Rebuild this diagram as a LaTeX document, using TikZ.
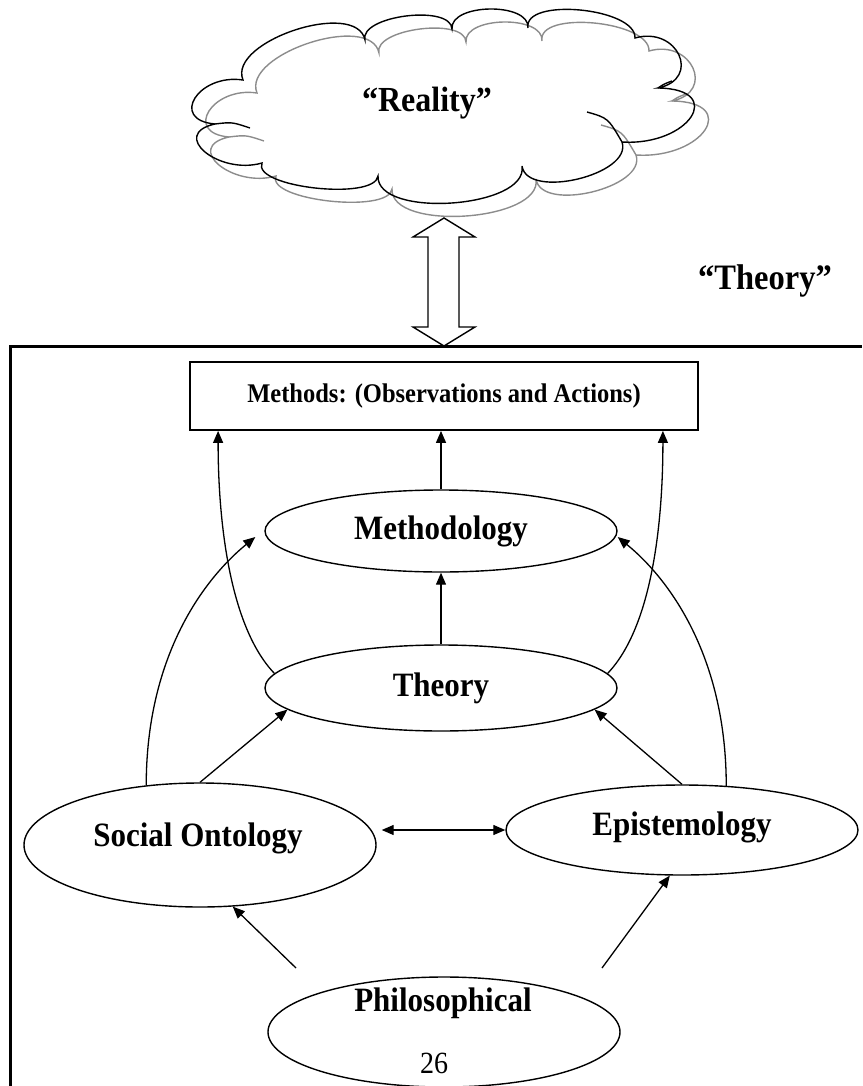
\documentclass[tikz,border=0pt]{standalone}
\usepackage{fontspec}
\setmainfont{Liberation Serif}
\usetikzlibrary{arrows.meta,shapes.geometric,calc}
% one rounded puff of the cloud outline: from #1 to #2, bulging through #3
\newcommand{\cloudpuff}[3]{.. controls ($0.3633*(#1)+1.3333*(#3)-0.6967*(#2)$)
  and ($0.3633*(#2)+1.3333*(#3)-0.6967*(#1)$) .. (#2)}
% the whole cloud outline with its inner curls
\newcommand{\cloudoutline}{%
  \draw (215,124) \cloudpuff{215,124}{243,80}{195,98}
        \cloudpuff{243,80}{365,40}{295,30}
        \cloudpuff{365,40}{452,29}{406,16}
        \cloudpuff{452,29}{528,28}{490,9}
        \cloudpuff{528,28}{635,38}{580,10}
        \cloudpuff{635,38}{658,88}{679,55}
        \cloudpuff{658,88}{622,142}{691,117}
        \cloudpuff{622,142}{522,166}{578,179}
        \cloudpuff{522,166}{378,176}{452,203}
        \cloudpuff{378,176}{262,163}{315,188}
        \cloudpuff{262,163}{215,124}{205,152};
  \draw (215,124) .. controls (232,122) .. (250,128);
  \draw (587,112) .. controls (608,118) .. (622,142);
  \draw (658,88) .. controls (664,84) .. (672,81);
}
% labels are set a little taller than wide
\newcommand{\tall}[1]{\scalebox{1}[1.1]{#1}}
\begin{document}
\begin{tikzpicture}[x=1pt,y=-1pt,
  ell/.style={draw, line width=1.4pt, ellipse, inner sep=0pt},
  lbl/.style={font=\fontsize{31}{34}\selectfont\bfseries, inner sep=0pt},
  arr/.style={line width=1.3pt, -{Triangle[length=12pt,width=10pt]}},
  dblarr/.style={line width=1.3pt, {Triangle[length=12pt,width=10pt]}-{Triangle[length=12pt,width=10pt]}}]
\useasboundingbox (0,0) rectangle (862,1086);

% the cloud: a grey outline behind a black one, both unfilled
\begin{scope}[shift={(14,13)}, draw=black!45, line width=1.4pt]
  \cloudoutline
\end{scope}
\begin{scope}[draw=black, line width=1.4pt]
  \cloudoutline
\end{scope}
\node[font=\fontsize{32}{36}\selectfont\bfseries] (reality) at (427,103) {\tall{“Reality”}};

% hollow double arrow between the cloud and the frame
\draw[line width=1.4pt, line join=miter]
  (444,218) -- (475,237) -- (459,237) -- (459,327) -- (475,327) -- (444,346)
  -- (413,327) -- (428,327) -- (428,237) -- (413,237) -- cycle;

% open frame
\draw[line width=3pt] (10.5,1086) -- (10.5,346) -- (862,346);
\node[font=\fontsize{32.5}{36}\selectfont\bfseries] (theorylbl) at (765,281) {\tall{“Theory”}};

% methods box
\node[draw, line width=1.8pt, minimum width=508pt, minimum height=68pt, inner sep=0pt,
      font=\fontsize{24.5}{28}\selectfont\bfseries] (methods) at (444,396)
      {\tall{Methods: (Observations and Actions)}};

% ellipses
\node[ell, minimum width=352pt, minimum height=82pt, font=\fontsize{31}{34}\selectfont\bfseries] (mthd) at (441,531) {\tall{Methodology}};
\node[ell, minimum width=352pt, minimum height=86pt, font=\fontsize{31}{34}\selectfont\bfseries] (theory) at (441,688) {\tall{Theory}};
\node[ell, minimum width=352pt, minimum height=124pt] (onto) at (200,845) {};
\node[lbl] (ontotext) at (198,838) {\tall{Social Ontology}};
\node[ell, minimum width=352pt, minimum height=90pt] (epis) at (682,830) {};
\node[lbl] (epistext) at (682,827) {\tall{Epistemology}};
\node[ell, minimum width=352pt, minimum height=110pt] (phil) at (444,1032) {};
\node[lbl] (philtext) at (443,1003) {\tall{Philosophical}};
\node[font=\fontsize{28}{30}\selectfont, inner sep=0pt] (pagenum) at (434,1063) {\tall{26}};

% connectors
\draw[arr] (mthd.north) -- (mthd.north |- methods.south);
\draw[arr] (theory.north) -- (mthd.south);
\draw[arr] (theory.175) .. controls +(-45,-47) and +(0,90) .. ([xshift=29pt]methods.south west);
\draw[arr] (theory.5) .. controls +(45,-47) and +(0,90) .. ([xshift=-36pt]methods.south east);
\draw[arr] (onto.132) .. controls +(0,-125) and +(-55,45) .. ([shift={(-9pt,-6pt)}]mthd.west);
\draw[arr] (epis.45) .. controls +(0,-125) and +(55,45) .. ([yshift=-6pt]mthd.east);
\draw[arr] (onto.north) -- (theory.188);
\draw[arr] (epis.north) -- (theory.352);
\draw[dblarr] ([xshift=5pt]onto.east |- epis.west) -- (epis.west);
\coordinate (philL) at ([shift={(-148pt,64pt)}]phil.center);
\coordinate (philR) at ([shift={(158pt,64pt)}]phil.center);
\draw[arr] (philL) -- (onto.298);
\draw[arr] (philR) -- (epis.255);
\end{tikzpicture}
\end{document}
